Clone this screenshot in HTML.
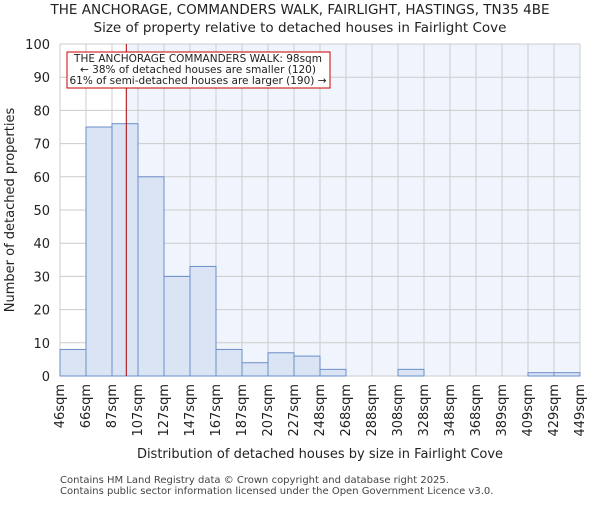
<!DOCTYPE html>
<html><head><meta charset="utf-8"><style>body{margin:0;background:#fff}svg{font-family:"DejaVu Sans",sans-serif}</style></head>
<body>
<svg id="c" width="600" height="500"></svg>
<script>
const binLabels=["46sqm","66sqm","87sqm","107sqm","127sqm","147sqm","167sqm","187sqm","207sqm","227sqm","248sqm","268sqm","288sqm","308sqm","328sqm","348sqm","368sqm","389sqm","409sqm","429sqm","449sqm"];
const binEdges=[46,66,87,107,127,147,167,187,207,227,248,268,288,308,328,348,368,389,409,429,449];
const counts=[8,75,76,60,30,33,8,4,7,6,2,0,0,2,0,0,0,0,1,1];
const yTicks=[0,10,20,30,40,50,60,70,80,90,100];
const marker=98;
const NS="http://www.w3.org/2000/svg",svg=document.getElementById('c');
const L=60,R=580,T=44,B=376,n=counts.length,bw=(R-L)/n;
const y=v=>B-(v/100)*(B-T);
const xv=v=>{for(let i=0;i<binEdges.length-1;i++){if(v<=binEdges[i+1])return L+bw*(i+(v-binEdges[i])/(binEdges[i+1]-binEdges[i]));}return R;};
function el(t,a,txt){const e=document.createElementNS(NS,t);for(const k in a)e.setAttribute(k,a[k]);if(txt!=null)e.textContent=txt;svg.appendChild(e);return e;}
let e;
const mx=xv(marker);
e=el('rect',{x:mx,y:T,width:R-mx,height:B-T,fill:'#f0f4fc'});

for(let i=0;i<=n;i++){e=el('line',{x1:L+i*bw,x2:L+i*bw,y1:T,y2:B,stroke:'#cccccc'});}
yTicks.forEach(t=>{e=el('line',{x1:L,x2:R,y1:y(t),y2:y(t),stroke:'#cccccc'});
e=el('text',{x:L-10,y:y(t)+5,'text-anchor':'end','font-size':13,fill:'#222'},t);});
counts.forEach((c,i)=>{if(c<=0)return;e=el('rect',{x:L+i*bw,y:y(c),width:bw,height:B-y(c),fill:'#dae4f4',stroke:'#6a8fc8','stroke-width':1});});
binLabels.forEach((lb,i)=>{const xx=L+i*bw+4;e=el('text',{x:xx,y:384,transform:`rotate(-90 ${xx} 384)`,'text-anchor':'end','font-size':13,fill:'#222'},lb);});
e=el('line',{x1:mx,x2:mx,y1:T,y2:B,stroke:'#aa0000','stroke-width':1});
e=el('rect',{x:67,y:52,width:263,height:36,fill:'#fff',stroke:'#cc0000'});
[["THE ANCHORAGE COMMANDERS WALK: 98sqm",62],["← 38% of detached houses are smaller (120)",73],["61% of semi-detached houses are larger (190) →",84]].forEach(([t,yy])=>{e=el('text',{x:198,y:yy,'text-anchor':'middle','font-size':10.5,fill:'#222'},t);});
e=el('text',{x:300,y:14,'text-anchor':'middle','font-size':13.5,fill:'#222'},"THE ANCHORAGE, COMMANDERS WALK, FAIRLIGHT, HASTINGS, TN35 4BE");
e=el('text',{x:300,y:32,'text-anchor':'middle','font-size':13.5,fill:'#222'},"Size of property relative to detached houses in Fairlight Cove");
e=el('text',{x:14,y:210,transform:'rotate(-90 14 210)','text-anchor':'middle','font-size':13,fill:'#222'},"Number of detached properties");
e=el('text',{x:320,y:458,'text-anchor':'middle','font-size':13,fill:'#222'},"Distribution of detached houses by size in Fairlight Cove");
e=el('text',{x:60,y:483,'font-size':10,fill:'#444'},"Contains HM Land Registry data © Crown copyright and database right 2025.");
e=el('text',{x:60,y:494,'font-size':10,fill:'#444'},"Contains public sector information licensed under the Open Government Licence v3.0.");
</script>
</body></html>
